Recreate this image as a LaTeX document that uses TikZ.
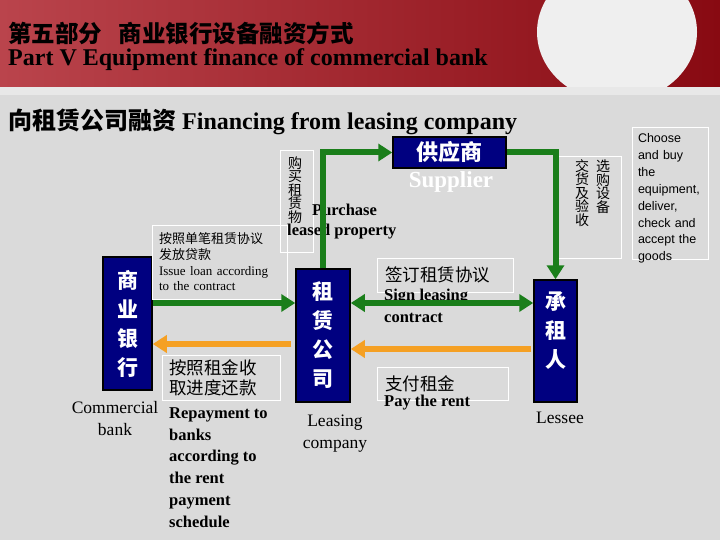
\documentclass[tikz,border=0pt]{standalone}
\usepackage{fontspec}
\setmainfont{Liberation Serif}
\newfontfamily\cjk{Noto Sans CJK SC}
\newfontfamily\uisans{Liberation Sans}
\usetikzlibrary{arrows.meta}
\definecolor{hdrleft}{HTML}{BA444C}
\definecolor{hdrright}{HTML}{880A12}
\definecolor{ellwhite}{HTML}{EFEFEF}
\definecolor{bggray}{HTML}{DADADA}
\definecolor{stripgray}{HTML}{E8E8E8}
\definecolor{navyfill}{HTML}{000080}
\definecolor{arrgreen}{HTML}{1A7E1A}
\definecolor{arrorange}{HTML}{F5A023}
\newcommand{\fsz}[2]{\fontsize{#1}{#2}\selectfont}

\begin{document}
\begin{tikzpicture}[x=1pt, y=-1pt,
    every node/.style={inner sep=0pt},
    orgbox/.style={draw=black, line width=1.5pt, fill=navyfill, text=white,
      align=center, font=\cjk\bfseries\fsz{21}{29}},
    notebox/.style={draw=white, line width=0.7pt},
    caption/.style={align=center, font=\fsz{17.5}{22}},
    flowtext/.style={align=left, font=\bfseries\fsz{16.5}{21.8}},
    vtext/.style={align=center, font={\cjk\fsz{14}{13.5}\lineskiplimit=-20pt}},
    garrow/.style={draw=arrgreen, line width=6pt, -{Triangle[length=14pt,width=17pt]}},
    oarrow/.style={draw=arrorange, line width=6pt, -{Triangle[length=14pt,width=17pt]}}]
  \useasboundingbox (0,0) rectangle (720,540);
  % background and header band
  \fill[bggray] (0,0) rectangle (720,540);
  \shade[left color=hdrleft, right color=hdrright] (0,0) rectangle (720,87);
  \begin{scope}
    \clip (0,0) rectangle (720,87);
    \fill[ellwhite] (617,32) ellipse [x radius=80, y radius=70];
  \end{scope}
  \fill[stripgray] (0,87) rectangle (720,95);

  \node[anchor=west, font=\cjk\bfseries\fsz{23.5}{26}] (title) at (8,33)
    {第五部分\hspace{0.7em}商业银行设备融资方式};
  \node[anchor=west, font=\bfseries\fsz{24}{26}] (subtitle) at (8,60)
    {Part V Equipment finance of commercial bank};
  \node[anchor=west, font=\bfseries\fsz{24}{26}] (heading) at (8,122)
    {{\cjk 向租赁公司融资} Financing from leasing company};

  % parties
  \node[orgbox, font=\cjk\bfseries\fsz{22}{26}, minimum width=113, minimum height=31]
    (supplier) at (449.5,152.5) {供应商};
  \node[font=\bfseries\fsz{23}{26}, text=white] (supplab) at (451,182) {Supplier};
  \node[orgbox, minimum width=49, minimum height=133] (bank) at (127.5,323.5) {商\\业\\银\\行};
  \node[orgbox, minimum width=54, minimum height=133] (lease) at (323,335.5) {租\\赁\\公\\司};
  \node[orgbox, minimum width=43, minimum height=122, text depth=22pt]
    (lessee) at (555.5,341) {承\\租\\人};
  \node[caption] (banklab) at (115,419) {Commercial\\bank};
  \node[caption] (leaselab) at (335,434) {Leasing\\company};
  \node[caption] (lesseelab) at (560,418) {Lessee};

  % notes
  \node[notebox, minimum width=33, minimum height=102] (buybox) at (296.5,201) {};
  \node[vtext] (buytxt) at (295,190) {购\\买\\租\\赁\\物};
  \node[anchor=west, font=\bfseries\fsz{16.5}{20}] (buylab1) at (312,210) {Purchase};
  \node[anchor=west, font=\bfseries\fsz{16.5}{20}] (buylab2) at (287,232) {leased property};

  \node[notebox, minimum width=135, minimum height=74, text width=121, align=left,
    font=\fsz{13}{15.7}] (issue) at (219.5,262)
    {{\cjk 按照单笔租赁协议\\发放贷款}\\Issue loan according\\to the contract};

  \node[notebox, minimum width=118, minimum height=45, text width=104, align=left,
    font=\cjk\fsz{17.5}{20}] (repay) at (221,378) {按照租金收\\取进度还款};
  \node[flowtext, anchor=west] (repaylab) at (169,467.5)
    {Repayment to\\banks\\according to\\the rent\\payment\\schedule};

  \node[notebox, minimum width=136, minimum height=34, text width=120, align=left,
    font=\cjk\fsz{17.5}{20}] (sign) at (445,275) {签订租赁协议};
  \node[flowtext, anchor=west] (signlab) at (384,306) {Sign leasing\\contract};

  \node[notebox, minimum width=131, minimum height=33, text width=115, align=left,
    font=\cjk\fsz{17.5}{20}] (rent) at (442.5,383.5) {支付租金};
  \node[flowtext, anchor=west] (rentlab) at (384,403) {Pay the rent};

  \node[notebox, minimum width=63, minimum height=102] (pickbox) at (589.5,207) {};
  \node[vtext] (picktxt1) at (603,186.5) {选\\购\\设\\备};
  \node[vtext] (picktxt2) at (582,193) {交\\货\\及\\验\\收};

  \node[notebox, minimum width=76, minimum height=132] (choosebox) at (670,193) {};
  \node[text width=64, align=left, font=\uisans\fsz{12.5}{16.9}] (choose) at (670,198.5)
    {Choose\\and buy\\the\\equipment,\\deliver,\\check and\\accept the\\goods};

  % flows
  \coordinate (loanY) at (0,303);
  \coordinate (backY) at (0,344);
  \coordinate (rentY) at (0,349);
  \draw[garrow] (bank.east |- loanY) -- (lease.west |- loanY);
  \draw[oarrow, shorten <=4pt] (lease.west |- backY) -- (bank.east |- backY);
  \draw[garrow, {Triangle[length=14pt,width=17pt]}-{Triangle[length=14pt,width=17pt]}]
    (lease.east |- loanY) -- (lessee.west |- loanY);
  \draw[oarrow, shorten <=2pt] (lessee.west |- rentY) -- (lease.east |- rentY);
  \draw[garrow] (lease.north) |- (supplier.west);
  \draw[garrow] (supplier.east) -| (lessee.north);
\end{tikzpicture}
\end{document}
